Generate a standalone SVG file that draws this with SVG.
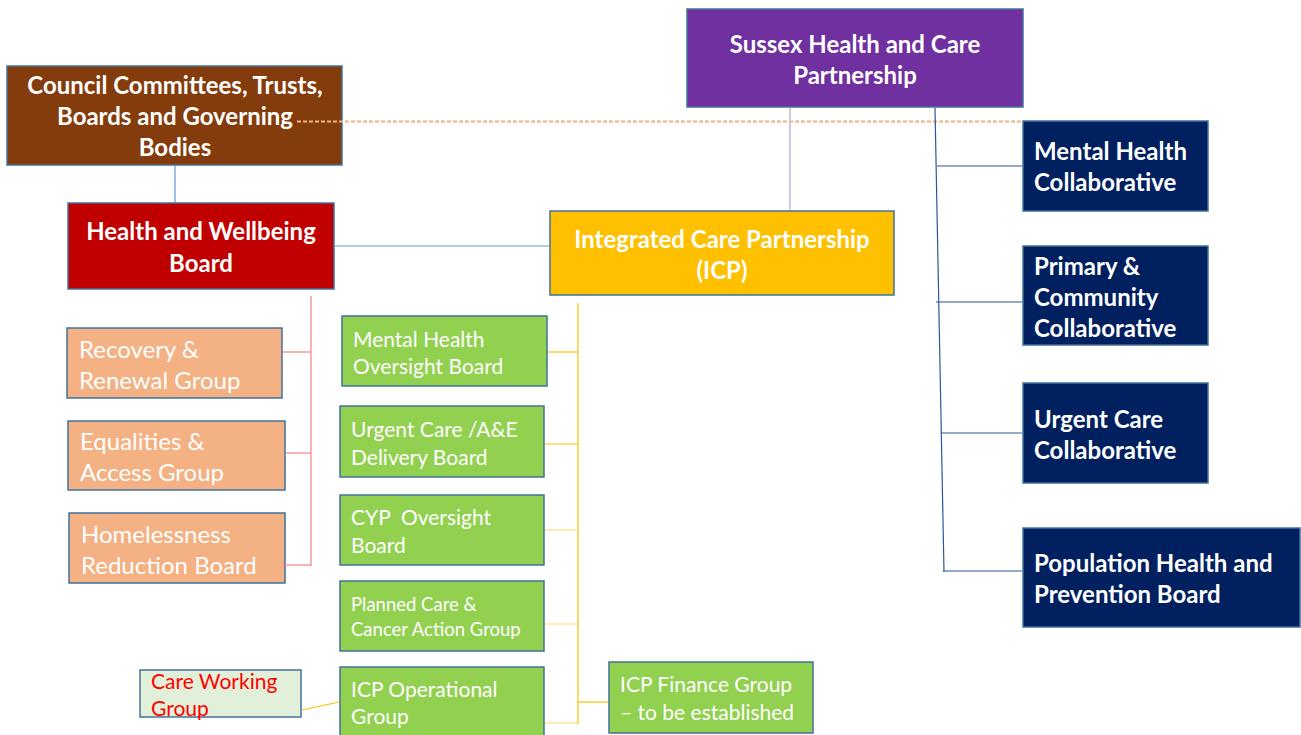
<svg xmlns="http://www.w3.org/2000/svg" width="1301" height="735" viewBox="0 0 1301 735">
<style>
.box{stroke:#41719C;stroke-width:1.5}
.tb{font-family:Lato,"Open Sans","Liberation Sans",sans-serif;font-weight:bold;fill:#FFFFFF;font-size:24px}
.tr{font-family:Lato,"Open Sans","Liberation Sans",sans-serif;fill:#FFFFFF;font-size:24px}
.tg{font-family:Lato,"Open Sans","Liberation Sans",sans-serif;fill:#FFFFFF;font-size:21px}
.mid{text-anchor:middle}
.ln{fill:none;stroke-width:1.2}
</style>
<rect width="1301" height="735" fill="#FFFFFF"/>
<g id="council">
  <rect class="box" x="7" y="66" width="335" height="99" fill="#843C0C"/>
  <text class="tb mid" x="175" y="94">Council Committees, Trusts,</text>
  <text class="tb mid" x="175" y="125">Boards and Governing</text>
  <text class="tb mid" x="175" y="156">Bodies</text>
</g>
<g id="sussex">
  <rect class="box" x="687" y="9" width="336" height="98" fill="#7030A0"/>
  <text class="tb mid" x="855" y="53">Sussex Health and Care</text>
  <text class="tb mid" x="855" y="84">Partnership</text>
</g>
<g id="hwb">
  <rect class="box" x="68" y="203" width="266" height="86" fill="#C00000"/>
  <text class="tb mid" x="201" y="240">Health and Wellbeing</text>
  <text class="tb mid" x="201" y="272">Board</text>
</g>
<g id="icp">
  <rect class="box" x="550" y="211" width="344" height="84" fill="#FFC000"/>
  <text class="tb mid" x="722" y="248">Integrated Care Partnership</text>
  <text class="tb mid" x="722" y="279">(ICP)</text>
</g>
<g id="mh-collab">
  <rect class="box" x="1023" y="121" width="185" height="90" fill="#002060"/>
  <text class="tb" x="1034" y="160">Mental Health</text>
  <text class="tb" x="1034" y="191">Collaborative</text>
</g>
<g id="primary-collab">
  <rect class="box" x="1023" y="246" width="185" height="99" fill="#002060"/>
  <text class="tb" x="1034" y="275">Primary &amp;</text>
  <text class="tb" x="1034" y="306">Community</text>
  <text class="tb" x="1034" y="337">Collaborative</text>
</g>
<g id="urgent-collab">
  <rect class="box" x="1023" y="383" width="185" height="100" fill="#002060"/>
  <text class="tb" x="1034" y="428">Urgent Care</text>
  <text class="tb" x="1034" y="459">Collaborative</text>
</g>
<g id="population">
  <rect class="box" x="1023" y="528" width="277" height="99" fill="#002060"/>
  <text class="tb" x="1034" y="572">Population Health and</text>
  <text class="tb" x="1034" y="603">Prevention Board</text>
</g>
<g id="recovery">
  <rect class="box" x="67" y="328" width="215" height="70" fill="#F4B183"/>
  <text class="tr" x="79" y="358">Recovery &amp;</text>
  <text class="tr" x="79" y="389">Renewal Group</text>
</g>
<g id="equalities">
  <rect class="box" x="68" y="421" width="217" height="69" fill="#F4B183"/>
  <text class="tr" x="80" y="450">Equalities &amp;</text>
  <text class="tr" x="80" y="481">Access Group</text>
</g>
<g id="homelessness">
  <rect class="box" x="69" y="513" width="216" height="70" fill="#F4B183"/>
  <text class="tr" x="81" y="543">Homelessness</text>
  <text class="tr" x="81" y="574">Reduction Board</text>
</g>
<g id="mh-oversight">
  <rect class="box" x="342" y="316" width="205" height="70" fill="#92D050"/>
  <text class="tg" x="353" y="347">Mental Health</text>
  <text class="tg" x="353" y="374">Oversight Board</text>
</g>
<g id="urgent-ae">
  <rect class="box" x="340" y="406" width="204" height="71" fill="#92D050"/>
  <text class="tg" x="351" y="437">Urgent Care /A&amp;E</text>
  <text class="tg" x="351" y="465">Delivery Board</text>
</g>
<g id="cyp">
  <rect class="box" x="340" y="495" width="204" height="70" fill="#92D050"/>
  <text class="tg" x="351" y="525" xml:space="preserve">CYP  Oversight</text>
  <text class="tg" x="351" y="553">Board</text>
</g>
<g id="planned">
  <rect class="box" x="340" y="581" width="204" height="70" fill="#92D050"/>
  <text class="tg" x="351" y="611" style="font-size:18.5px">Planned Care &amp;</text>
  <text class="tg" x="351" y="636" style="font-size:18.5px">Cancer Action Group</text>
</g>
<g id="icp-operational">
  <rect class="box" x="340" y="667" width="204" height="72" fill="#92D050"/>
  <text class="tg" x="351" y="697">ICP Operational</text>
  <text class="tg" x="351" y="724">Group</text>
</g>
<g id="icp-finance">
  <rect class="box" x="609" y="662" width="204" height="71" fill="#92D050"/>
  <text class="tg" x="620" y="692">ICP Finance Group</text>
  <text class="tg" x="620" y="720">– to be established</text>
</g>
<g id="care-working">
  <rect class="box" x="140" y="670" width="161" height="47" fill="#E2F0D9"/>
  <text class="tg" x="151" y="689" style="fill:#FF0000">Care Working</text>
  <text class="tg" x="151" y="716" style="fill:#FF0000">Group</text>
</g>
<g id="connectors">
  <line class="ln" x1="175" y1="166" x2="175" y2="202" stroke="#5B9BD5"/>
  <line class="ln" x1="335" y1="246" x2="549" y2="246" stroke="#5B9BD5"/>
  <line class="ln" x1="790" y1="108" x2="790" y2="210" stroke="#B4A0CF"/>
  <line x1="297" y1="121.5" x2="1022" y2="121.5" stroke="#F4B183" stroke-width="1.8" stroke-dasharray="4,2"/>
  <line class="ln" x1="935" y1="108" x2="944" y2="572" stroke="#2F5597"/>
  <line class="ln" x1="937" y1="166" x2="1022" y2="166" stroke="#2F5597"/>
  <line class="ln" x1="936" y1="302" x2="1022" y2="302" stroke="#2F5597"/>
  <line class="ln" x1="941" y1="433" x2="1022" y2="433" stroke="#2F5597"/>
  <line class="ln" x1="943" y1="571" x2="1022" y2="571" stroke="#2F5597"/>
  <line class="ln" x1="311" y1="296" x2="311" y2="566" stroke="#FF7C80"/>
  <line class="ln" x1="283" y1="352" x2="311" y2="352" stroke="#FF7C80"/>
  <line class="ln" x1="286" y1="453" x2="311" y2="453" stroke="#FF7C80"/>
  <line class="ln" x1="283" y1="565" x2="311" y2="565" stroke="#FF7C80"/>
  <line class="ln" x1="578" y1="303" x2="578" y2="724" stroke="#FFC000"/>
  <line class="ln" x1="548" y1="352" x2="578" y2="352" stroke="#FFC000"/>
  <line class="ln" x1="545" y1="444" x2="578" y2="444" stroke="#FFC000"/>
  <line class="ln" x1="545" y1="530" x2="578" y2="530" stroke="#FFD966"/>
  <line class="ln" x1="545" y1="624" x2="578" y2="624" stroke="#FFD966"/>
  <line class="ln" x1="578" y1="702" x2="608" y2="702" stroke="#FFC000"/>
  <line class="ln" x1="545" y1="723" x2="578" y2="723" stroke="#FFD966" stroke-width="2"/>
  <line class="ln" x1="302" y1="710" x2="339" y2="702" stroke="#FFC000"/>
</g>
</svg>
